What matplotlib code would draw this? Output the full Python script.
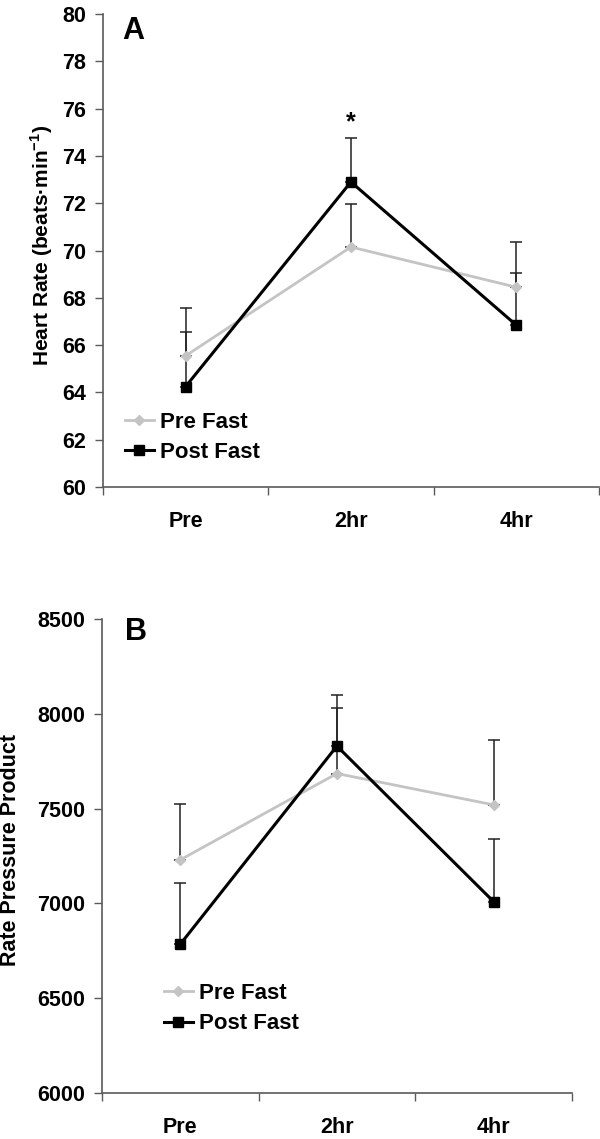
import matplotlib
matplotlib.use("Agg")
import matplotlib.pyplot as plt
import numpy as np

# Time points
categories = ['Pre', '2hr', '4hr']

# Panel A: heart rate (beats/min), mean and upper SE
hr_pre_fast = [65.55, 70.15, 68.45]
hr_pre_fast_err = [2.0, 1.8, 1.9]
hr_post_fast = [64.25, 72.9, 66.85]
hr_post_fast_err = [2.3, 1.85, 2.2]

# Panel B: rate pressure product
rpp_pre_fast = [7230, 7685, 7520]
rpp_pre_fast_err = [295, 345, 342]
rpp_post_fast = [6785, 7830, 7010]
rpp_post_fast_err = [325, 270, 328]

plt.rcParams['font.family'] = ['Liberation Sans', 'DejaVu Sans']
plt.rcParams['font.weight'] = 'bold'
plt.rcParams['mathtext.fontset'] = 'custom'
plt.rcParams['mathtext.rm'] = 'Liberation Sans:bold'
plt.rcParams['mathtext.bf'] = 'Liberation Sans:bold'

GRAY = '#c4c4c4'
SPINE = '#5a5a5a'
TICK_FS = 15.5
LEG_FS = 16

fig = plt.figure(figsize=(6.0, 11.39), dpi=100)
ax_a = fig.add_axes([0.1717, 0.5724, 0.8263, 0.4153])
ax_b = fig.add_axes([0.17, 0.0404, 0.783, 0.4161])


def draw_panel(ax, pre, pre_err, post, post_err):
    x = np.arange(len(categories))
    zeros = np.zeros(len(categories))
    ax.errorbar(x, pre, yerr=[zeros, pre_err], fmt='none', ecolor='#222222',
                elinewidth=1.1, capsize=4, capthick=1.1, zorder=2)
    ax.errorbar(x, post, yerr=[zeros, post_err], fmt='none', ecolor='#222222',
                elinewidth=1.1, capsize=4, capthick=1.1, zorder=2)
    ax.plot(x, pre, color=GRAY, lw=2.0, marker='D', ms=5.5, mfc=GRAY, mec=GRAY,
            label='Pre Fast', zorder=3)
    ax.plot(x, post, color='black', lw=2.2, marker='s', ms=6.5, mfc='black', mec='black',
            label='Post Fast', zorder=4)

    ax.set_xlim(-0.5, len(categories) - 0.5)
    ax.set_xticks(np.arange(-0.5, len(categories)))
    ax.set_xticklabels([])
    ax.set_xticks(x, minor=True)
    ax.set_xticklabels(categories, minor=True)
    ax.tick_params(axis='x', which='major', direction='out', length=6, width=1, color=SPINE)
    ax.tick_params(axis='x', which='minor', length=0, pad=17.5, labelsize=TICK_FS)
    ax.tick_params(axis='y', direction='out', length=6, width=1, color=SPINE,
                   labelsize=TICK_FS, pad=6)
    for s in ['top', 'right']:
        ax.spines[s].set_visible(False)
    for s in ['left', 'bottom']:
        ax.spines[s].set_color(SPINE)
        ax.spines[s].set_linewidth(1.2)


def add_legend(ax, x, y):
    ax.legend(loc='center left', bbox_to_anchor=(x, y), frameon=False, fontsize=LEG_FS,
              handlelength=1.3, handletextpad=0.27, labelspacing=0.42,
              borderpad=0, borderaxespad=0)


# Panel A
draw_panel(ax_a, hr_pre_fast, hr_pre_fast_err, hr_post_fast, hr_post_fast_err)
ax_a.set_ylim(60, 80)
ax_a.set_yticks(np.arange(60, 81, 2))
ax_a.set_ylabel('Heart Rate (beats·min$^{\\mathbf{-1}}$)', fontsize=15, fontweight='bold')
ax_a.yaxis.set_label_coords(-0.097, 0.51)
ax_a.text(0.038, 0.964, 'A', transform=ax_a.transAxes, fontsize=22, fontweight='bold',
          ha='left', va='center')
ax_a.text(1, 75.4, '*', fontsize=18, fontweight='bold', ha='center', va='center')
add_legend(ax_a, 0.044, 0.105)

# Panel B
draw_panel(ax_b, rpp_pre_fast, rpp_pre_fast_err, rpp_post_fast, rpp_post_fast_err)
ax_b.set_ylim(6000, 8500)
ax_b.set_yticks(np.arange(6000, 8501, 500))
ax_b.set_ylabel('Rate Pressure Product', fontsize=15.5, fontweight='bold')
ax_b.yaxis.set_label_coords(-0.172, 0.513)
ax_b.text(0.049, 0.973, 'B', transform=ax_b.transAxes, fontsize=22, fontweight='bold',
          ha='left', va='center')
add_legend(ax_b, 0.132, 0.178)

fig.savefig('out.png', dpi=100)
